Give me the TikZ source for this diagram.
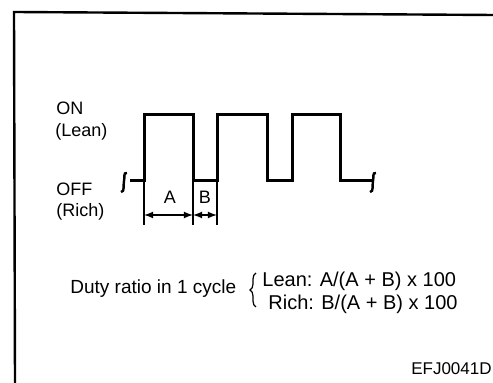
\documentclass[tikz,border=0pt]{standalone}
\usepackage{fontspec}
\setmainfont{Liberation Sans}
\usetikzlibrary{decorations.pathreplacing}
\begin{document}
\begin{tikzpicture}[x=0.5pt,y=-0.5pt,>=latex,
	wave line/.style={line width=1.5pt,line join=miter},
	dim line/.style={line width=0.6pt},
	level label/.style={anchor=west,inner sep=0pt,font=\fontsize{9}{10}\selectfont},
	formula text/.style={anchor=base west,inner sep=0pt,font=\fontsize{10}{12}\selectfont}
]
	\useasboundingbox (0,0) rectangle (493,383);

	\def \hi {115};
	\def \lo {181};
	\def \dy {215};
	\def \ey {225};

	% frame
	\draw[line width=1.2pt] (493,15) -- (14,12) -- (15,383);

	% levels
	\node[level label] (on) at (56,108) {ON};
	\node[level label] (lean lvl) at (55,132) {(Lean)};
	\node[level label] (off) at (56,189) {OFF};
	\node[level label] (rich lvl) at (56,212) {(Rich)};

	% pulse train
	\draw[wave line] (130,\lo) -- (144,\lo) -- (144,\hi) -- (193,\hi) -- (193,\lo)
		-- (217,\lo) -- (217,\hi) -- (267,\hi) -- (267,\lo)
		-- (292,\lo) -- (292,\hi) -- (340,\hi) -- (340,\lo) -- (372,\lo);
	\draw[line width=1.2pt] (127,173) .. controls (123,172) and (125,178) .. (124,181)
		.. controls (123,185) and (125,192) .. (121,192);
	\draw[line width=1.2pt] (376,173) .. controls (372,172) and (374,178) .. (373,181)
		.. controls (372,185) and (374,192) .. (370,192);

	% A and B
	\foreach \x/\n in {144/0,193/1,217/2} {
		\coordinate (top\n) at (\x,\lo);
		\coordinate (bot\n) at (\x,\ey);
		\coordinate (dim\n) at (\x,\dy);
		\draw[dim line] (top\n) -- (bot\n);
	}
	\draw[dim line,<->] (dim0) -- (dim1);
	\draw[dim line,<->] (dim1) -- (dim2);
	\node[font=\fontsize{9}{10}\selectfont] (a) at (170,197) {A};
	\node[font=\fontsize{9}{10}\selectfont] (b) at (205,197) {B};

	% duty ratio
	\node[formula text,font=\fontsize{9.5}{11}\selectfont] (duty) at (70,294) {Duty ratio in 1 cycle};
	\draw[dim line,decorate,decoration={brace,amplitude=3pt}] (256,307) -- (256,273);
	\node[formula text] (lean) at (262,287) {Lean: A/(A + B) x 100};
	\node[formula text] (rich) at (268,310) {Rich: B/(A + B) x 100};

	\node[anchor=base east,inner sep=0pt,font=\fontsize{8.5}{10}\selectfont] (code) at (492,375) {EFJ0041D};
\end{tikzpicture}
\end{document}
